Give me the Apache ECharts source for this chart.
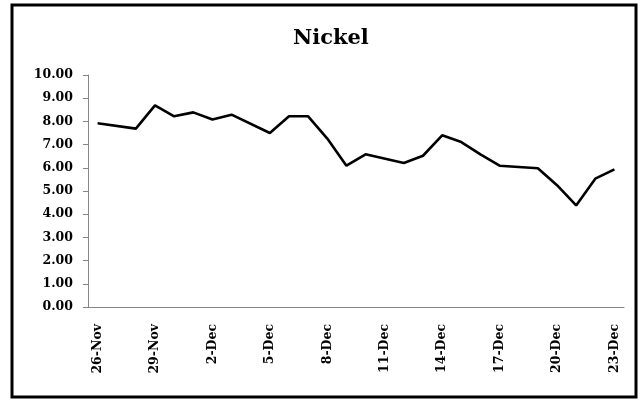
<!DOCTYPE html>
<html><head><meta charset="utf-8">
<script src="https://cdn.jsdelivr.net/npm/echarts@6/dist/echarts.min.js"></script>
<style>html,body{margin:0;padding:0;background:#fff}#c{width:643px;height:400px}</style>
</head><body><div id="c"></div>
<script>
const categories = ['26-Nov','27-Nov','28-Nov','29-Nov','30-Nov','1-Dec','2-Dec','3-Dec','4-Dec','5-Dec','6-Dec','7-Dec','8-Dec','9-Dec','10-Dec','11-Dec','12-Dec','13-Dec','14-Dec','15-Dec','16-Dec','17-Dec','18-Dec','19-Dec','20-Dec','21-Dec','22-Dec','23-Dec'];
const nickel = [7.92,null,7.69,8.69,8.22,8.39,8.08,8.29,null,7.50,8.22,8.22,7.26,6.09,6.58,null,6.21,6.52,7.40,7.11,6.58,6.09,null,5.98,5.25,4.38,5.53,5.93];
const yMin = 0, yMax = 10, yStep = 1;
const font = '"DejaVu Serif", "Liberation Serif", serif';
const chart = echarts.init(document.getElementById('c'));
chart.setOption({
  animation: false,
  title: {text: 'Nickel', left: 288, top: 23, textStyle: {fontFamily: font, fontWeight: 'bold', fontSize: 21, color: '#000'}},
  graphic: [{type: 'rect', shape: {x: 12, y: 5, width: 624, height: 392}, style: {fill: 'none', stroke: '#000', lineWidth: 3}}],
  grid: {left: 88, right: 19, top: 75, bottom: 93},
  xAxis: {
    type: 'category', data: categories, boundaryGap: true,
    axisLine: {lineStyle: {color: '#868686', width: 1}},
    axisTick: {interval: 2, length: 5, lineStyle: {color: '#868686'}},
    axisLabel: {interval: 2, rotate: 90, margin: 17, color: '#000', fontFamily: font, fontWeight: 'bold', fontSize: 12.5}
  },
  yAxis: {
    type: 'value', min: yMin, max: yMax, interval: yStep,
    axisLine: {show: true, lineStyle: {color: '#868686', width: 1}},
    axisTick: {show: true, length: 5, lineStyle: {color: '#868686'}},
    splitLine: {show: false},
    axisLabel: {formatter: v => v.toFixed(2), margin: 15, color: '#000', fontFamily: font, fontWeight: 'bold', fontSize: 12.5}
  },
  series: [{type: 'line', data: nickel, connectNulls: true, showSymbol: false, symbol: 'none',
    lineStyle: {color: '#000', width: 2.6}}]
});
</script></body></html>
